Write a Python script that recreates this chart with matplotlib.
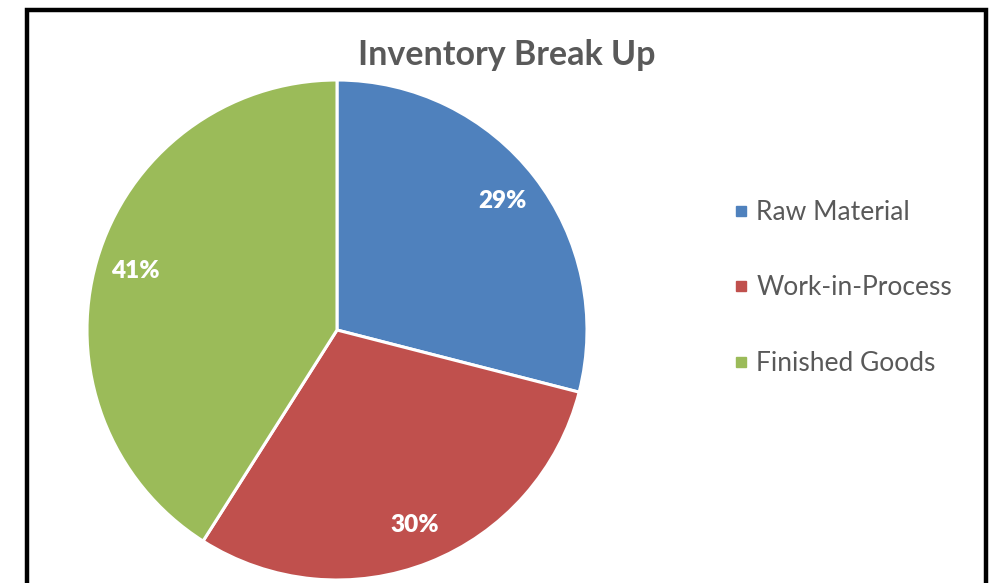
import matplotlib
matplotlib.use('Agg')
import matplotlib.pyplot as plt
from matplotlib.patches import Rectangle
from matplotlib.lines import Line2D

# ── Data ──────────────────────────────────────────────────────────
categories = ['Raw Material', 'Work-in-Process', 'Finished Goods']
shares = [29, 30, 41]
colors = ['#4F81BD', '#C0504D', '#9BBB59']
text_grey = '#595959'

plt.rcParams['font.family'] = ['Lato', 'DejaVu Sans']

W, H = 990, 583
fig = plt.figure(figsize=(W / 100, H / 100), dpi=100)

# ── Outer border (cut off at the bottom as in the original) ──────
fig.patches.append(Rectangle((27 / W, -0.05), (986 - 27) / W, 1.05 - 10 / H,
                             transform=fig.transFigure, fill=False,
                             edgecolor='black', linewidth=3.2, zorder=0))

# ── Pie ──────────────────────────────────────────────────────────
cx, cy, r = 337, 583 - 330, 250
ax = fig.add_axes([(cx - r) / W, (cy - r) / H, 2 * r / W, 2 * r / H])
wedges, _, autotexts = ax.pie(shares, colors=colors, startangle=90, counterclock=False,
                              autopct='%1.0f%%', pctdistance=0.84, radius=1,
                              wedgeprops=dict(edgecolor='white', linewidth=2.2))
for t in autotexts:
    t.set_color('white')
    t.set_fontsize(17.5)
    t.set_fontweight('heavy')
ax.set_xlim(-1, 1)
ax.set_ylim(-1, 1)
ax.axis('off')

# ── Title ────────────────────────────────────────────────────────
fig.text(507 / W, 1 - 55 / H, 'Inventory Break Up', ha='center', va='center',
         fontsize=24.5, fontweight='bold', color=text_grey)

# ── Legend ───────────────────────────────────────────────────────
handles = [Line2D([], [], marker='s', linestyle='', markersize=7.5, color=c) for c in colors]
leg = fig.legend(handles, categories, loc='center left', bbox_to_anchor=(734 / W, 1 - 288 / H),
                 frameon=False, fontsize=19, labelspacing=1.92, handlelength=0.5,
                 handletextpad=0.35, borderaxespad=0, borderpad=0)
for t in leg.get_texts():
    t.set_color(text_grey)

plt.savefig('out.png', dpi=100)
plt.close()
